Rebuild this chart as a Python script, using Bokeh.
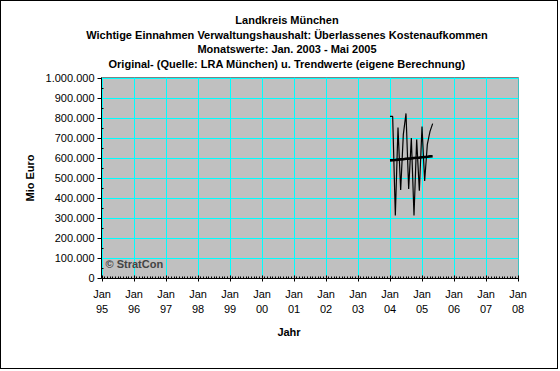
from bokeh.plotting import figure
from bokeh.models import Range1d, FixedTicker, LinearAxis, Label
from bokeh.embed import file_html
from bokeh.resources import INLINE

# ---- data ----
months = ["2004-01", "2004-02", "2004-03", "2004-04", "2004-05", "2004-06",
          "2004-07", "2004-08", "2004-09", "2004-10", "2004-11", "2004-12",
          "2005-01", "2005-02", "2005-03", "2005-04", "2005-05"]
original = [808000, 808000, 313000, 752000, 440000, 718000, 823000, 445000, 700000,
            312000, 693000, 436000, 757000, 485000, 668000, 733000, 772000]
trend = [588000, 589000, 590000, 592000, 593000, 594000, 596000, 597000, 598000,
         600000, 601000, 602000, 604000, 605000, 606000, 608000, 609000]

years = [1995, 1996, 1997, 1998, 1999, 2000, 2001, 2002, 2003, 2004, 2005, 2006, 2007, 2008]
x_labels = ["Jan\n95", "Jan\n96", "Jan\n97", "Jan\n98", "Jan\n99", "Jan\n00", "Jan\n01",
            "Jan\n02", "Jan\n03", "Jan\n04", "Jan\n05", "Jan\n06", "Jan\n07", "Jan\n08"]
y_ticks = [0, 100000, 200000, 300000, 400000, 500000, 600000, 700000, 800000, 900000, 1000000]
y_labels = ["0", "100.000", "200.000", "300.000", "400.000", "500.000", "600.000",
            "700.000", "800.000", "900.000", "1.000.000"]

title_lines = ["Landkreis München",
               "Wichtige Einnahmen Verwaltungshaushalt: Überlassenes Kostenaufkommen",
               "Monatswerte: Jan. 2003 - Mai 2005",
               "Original- (Quelle: LRA München) u. Trendwerte (eigene Berechnung)"]
x_title = "Jahr"
y_title = "Mio Euro"
credit = "© StratCon"

xs = [int(m[:4]) + (int(m[5:7]) - 1) / 12 for m in months]

FONT = "Liberation Sans"

# half-pixel padding on the ranges keeps the 1px grid lines crisp
p = figure(width=558, height=369,
           x_range=Range1d(years[0] - 1 / 64, years[-1] + 1 / 64),
           y_range=Range1d(-2500, 1002500),
           output_backend="svg", toolbar_location=None,
           min_border_left=100, min_border_right=41, min_border_top=76, min_border_bottom=92,
           background_fill_color="#C0C0C0", border_fill_color="white",
           outline_line_color="#808080", outline_line_width=1)
p.styles = {"border": "1px solid black"}

# main axes
p.xaxis.ticker = FixedTicker(ticks=years,
                             minor_ticks=[y + m / 12 for y in years[:-1] for m in range(1, 12)])
p.xaxis.major_label_overrides = {y: l for y, l in zip(years, x_labels)}
p.yaxis.ticker = FixedTicker(ticks=y_ticks,
                             minor_ticks=[t + 50000 for t in y_ticks[:-1]])
p.yaxis.major_label_overrides = {t: l for t, l in zip(y_ticks, y_labels)}

for ax in (p.xaxis[0], p.yaxis[0]):
    ax.axis_line_color = "black"
    ax.major_tick_line_color = "black"
    ax.minor_tick_line_color = "black"
    ax.major_label_text_font = FONT
    ax.major_label_text_font_size = "11px"
    ax.major_label_text_color = "black"

p.xaxis.major_tick_in = 3
p.xaxis.major_tick_out = 3
p.xaxis.minor_tick_in = 2
p.xaxis.minor_tick_out = 0
p.xaxis.major_label_standoff = 6
p.xaxis.major_label_text_line_height = 1.28
p.yaxis.major_tick_in = 0
p.yaxis.major_tick_out = 4
p.yaxis.minor_tick_in = 2
p.yaxis.minor_tick_out = 0
p.yaxis.major_label_standoff = 3

p.yaxis.axis_label = y_title
p.yaxis.axis_label_text_font = FONT
p.yaxis.axis_label_text_font_size = "11px"
p.yaxis.axis_label_text_font_style = "bold"
p.yaxis.axis_label_text_color = "black"
p.yaxis.axis_label_standoff = 7

p.xgrid.grid_line_color = "#00FFFF"
p.ygrid.grid_line_color = "#00FFFF"
p.xgrid.grid_line_width = 1
p.ygrid.grid_line_width = 1

# title block as a tick label of an invisible top axis (not clipped to the frame)
title_axis = LinearAxis(ticker=FixedTicker(ticks=[2000.78125]),
                        major_label_overrides={2000.78125: "\n".join(title_lines)})
# x-axis title as a tick label of an invisible second bottom axis
jahr_axis = LinearAxis(ticker=FixedTicker(ticks=[2000.84375]),
                       major_label_overrides={2000.84375: x_title})
for ax in (title_axis, jahr_axis):
    ax.axis_line_color = None
    ax.major_tick_line_color = None
    ax.minor_tick_line_color = None
    ax.major_tick_in = 0
    ax.major_tick_out = 0
    ax.major_label_text_font = FONT
    ax.major_label_text_font_size = "11px"
    ax.major_label_text_font_style = "bold"
    ax.major_label_text_color = "black"
title_axis.major_label_text_line_height = 1.2
title_axis.major_label_standoff = 8
jahr_axis.major_label_standoff = 8
p.add_layout(title_axis, "above")
p.add_layout(jahr_axis, "below")

# series
p.line(xs, original, line_color="black", line_width=1.2)
p.line(xs, trend, line_color="black", line_width=2.6)

# credit inside the plot area
p.add_layout(Label(x=4, y=15, x_units="screen", y_units="screen", text=credit,
                   text_align="left", text_baseline="middle",
                   text_font=FONT, text_font_size="11px", text_font_style="bold"))

open("out.html", "w").write(file_html(p, INLINE))
